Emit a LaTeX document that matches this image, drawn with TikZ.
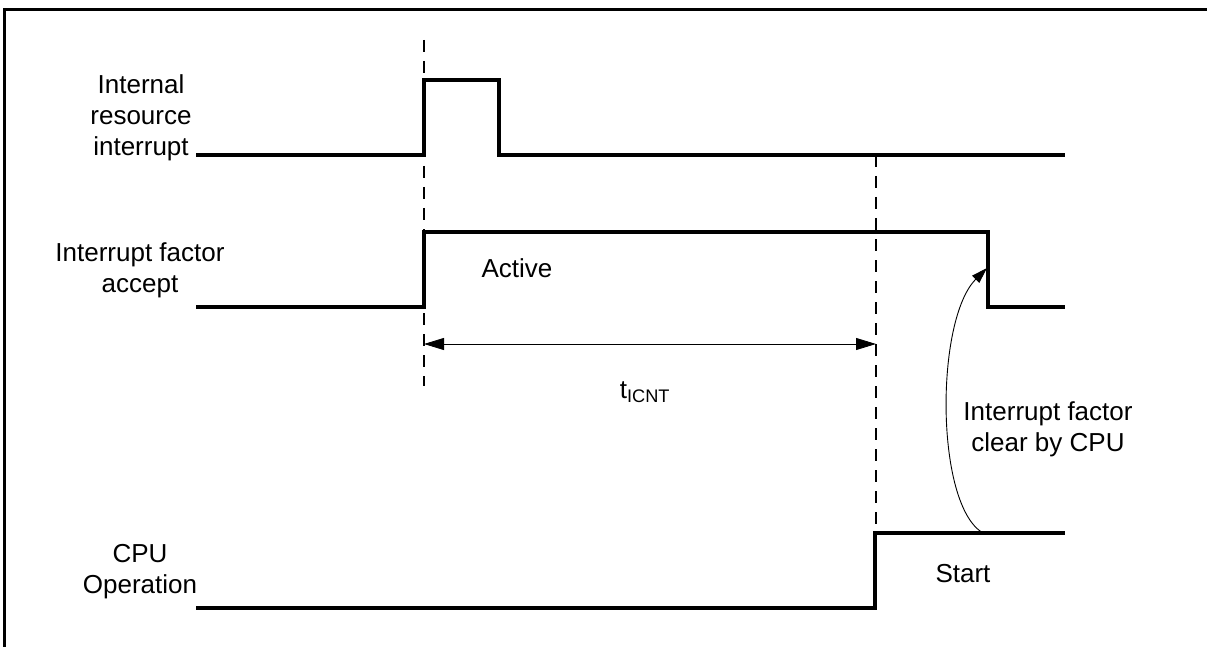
\documentclass[tikz,border=0pt]{standalone}
\usepackage{fontspec}
\setmainfont{Liberation Sans}
\usetikzlibrary{arrows.meta}
\begin{document}
\begin{tikzpicture}[x=1pt,y=-1pt,
  sig/.style={line width=3.5pt,line cap=rect},
  guide/.style={line width=1.3pt,dash pattern=on 12pt off 9pt},
  dim/.style={line width=0.9pt,{Triangle[length=20pt,width=12pt]}-{Triangle[length=20pt,width=12pt]}},
  lbl/.style={font=\fontsize{26}{31}\selectfont,align=center,inner sep=0pt},
  frame/.style={line width=3pt}]
\useasboundingbox (0,0) rectangle (1207,647);
% frame
\draw[frame] (4,650) -- (4,10) -- (1210,10);
% labels (base = baseline of last line)
\node[lbl,anchor=base] (l1) at (141,156) {Internal\\resource\\interrupt};
\node[lbl,anchor=base] (l2) at (140,292) {Interrupt factor\\accept};
\node[lbl,anchor=base] (l3) at (140,593) {CPU\\Operation};
% coordinates
\coordinate (a0) at (198,155);
\coordinate (a1) at (424,155);
\coordinate (a2) at (424,80);
\coordinate (a3) at (499,80);
\coordinate (a4) at (499,155);
\coordinate (a5) at (1063,155);
\coordinate (b0) at (198,307);
\coordinate (b1) at (424,307);
\coordinate (b2) at (424,232);
\coordinate (b3) at (988,232);
\coordinate (b4) at (988,307);
\coordinate (b5) at (1063,307);
\coordinate (c0) at (198,608);
\coordinate (c1) at (875,608);
\coordinate (c2) at (875,533);
\coordinate (c3) at (1063,533);
% signals
\draw[sig] (a0) -- (a1) -- (a2) -- (a3) -- (a4) -- (a5);
\draw[sig] (b0) -- (b1) -- (b2) -- (b3) -- (b4) -- (b5);
\draw[sig] (c0) -- (c1) -- (c2) -- (c3);
% guides
\coordinate (g1t) at (424,40);
\coordinate (g1b) at (424,386);
\coordinate (g2t) at (876,155);
\coordinate (g2b) at (876,533);
\draw[guide] (g1t) -- (g1b);
\draw[guide] (g2t) -- (g2b);
% dimension
\coordinate (d1) at (424,344);
\coordinate (d2) at (876,344);
\draw[dim] (d1) -- (d2);
\node[lbl,anchor=base] (tl) at (645,398) {t\textsubscript{ICNT}};
\node[lbl,anchor=base] (act) at (517,277) {Active};
% curved arrow
\coordinate (cs) at (983,533);
\coordinate (ce) at (987,268);
\draw[line width=0.9pt,-{Triangle[length=16pt,width=10pt]}] (cs) .. controls (935,505) and (935,320) .. (ce);
\node[lbl,anchor=base] (clr) at (1048,451) {Interrupt factor\\clear by CPU};
\node[lbl,anchor=base] (st) at (963,582) {Start};
\end{tikzpicture}
\end{document}
